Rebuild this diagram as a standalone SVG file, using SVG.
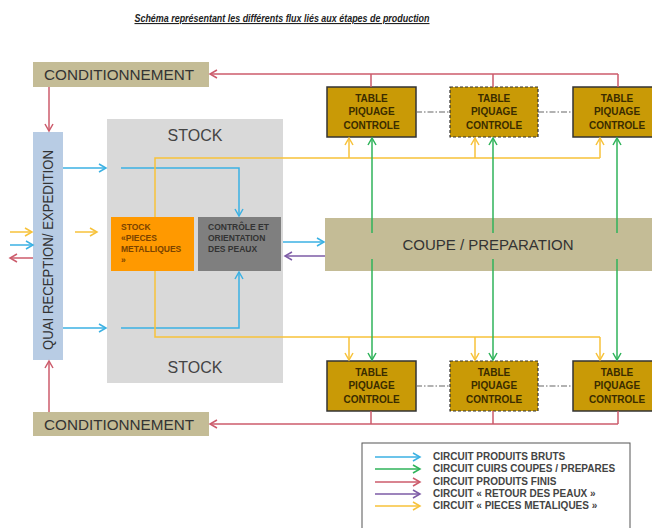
<svg xmlns="http://www.w3.org/2000/svg" width="652" height="528" viewBox="0 0 652 528">
<style>
text{font-family:"Liberation Sans","DejaVu Sans",sans-serif;}
.title{font-size:11px;font-style:italic;font-weight:bold;fill:#222;text-decoration:underline;}
.tan{fill:#c4bc96;}
.big{font-size:14.5px;fill:#333;}
.stock{font-size:16px;fill:#444;}
.tbl{fill:#c99a06;stroke:#333;stroke-width:1.5;}
.tbld{fill:#c99a06;stroke:#333;stroke-width:1.2;stroke-dasharray:3 2;}
.tt{font-size:10px;font-weight:bold;fill:#3a2c00;text-anchor:middle;}
.small{font-size:8.5px;font-weight:bold;}
.leg{font-size:10px;font-weight:bold;fill:#444;}
.b{stroke:#3bb1e3;stroke-width:1.5;fill:none;}
.g{stroke:#2fb35a;stroke-width:1.5;fill:none;}
.r{stroke:#cc5b6b;stroke-width:1.5;fill:none;}
.p{stroke:#7d5ba6;stroke-width:1.5;fill:none;}
.y{stroke:#f7c23a;stroke-width:1.5;fill:none;}
.dd{stroke:#666;stroke-width:1.2;stroke-dasharray:6 2 1.5 2;fill:none;}
</style>
<defs>
<marker id="mb" markerUnits="userSpaceOnUse" markerWidth="10" markerHeight="10" refX="8" refY="5" orient="auto"><path d="M1,1 L8,5 L1,9" fill="none" stroke="#3bb1e3" stroke-width="1.5"/></marker>
<marker id="mg" markerUnits="userSpaceOnUse" markerWidth="10" markerHeight="10" refX="8" refY="5" orient="auto"><path d="M1,1 L8,5 L1,9" fill="none" stroke="#2fb35a" stroke-width="1.5"/></marker>
<marker id="mr" markerUnits="userSpaceOnUse" markerWidth="10" markerHeight="10" refX="8" refY="5" orient="auto"><path d="M1,1 L8,5 L1,9" fill="none" stroke="#cc5b6b" stroke-width="1.5"/></marker>
<marker id="mp" markerUnits="userSpaceOnUse" markerWidth="10" markerHeight="10" refX="8" refY="5" orient="auto"><path d="M1,1 L8,5 L1,9" fill="none" stroke="#7d5ba6" stroke-width="1.5"/></marker>
<marker id="my" markerUnits="userSpaceOnUse" markerWidth="10" markerHeight="10" refX="8" refY="5" orient="auto"><path d="M1,1 L8,5 L1,9" fill="none" stroke="#f7c23a" stroke-width="1.5"/></marker>
</defs>
<rect width="652" height="528" fill="#fff"/>
<text class="title" x="282" y="22" text-anchor="middle" textLength="295" lengthAdjust="spacingAndGlyphs">Schéma représentant les différents flux liés aux étapes de production</text>

<g id="stock">
<rect x="107" y="119" width="176" height="264" fill="#d9d9d9"/>
<text class="stock" x="195" y="141" text-anchor="middle">STOCK</text>
<text class="stock" x="195" y="373" text-anchor="middle">STOCK</text>
</g>
<g id="conditionnement-top">
<rect class="tan" x="33" y="62" width="176" height="25"/>
<text class="big" x="44" y="80" textLength="150" lengthAdjust="spacingAndGlyphs">CONDITIONNEMENT</text>
</g>
<g id="conditionnement-bottom">
<rect class="tan" x="33" y="412" width="176" height="24"/>
<text class="big" x="44" y="430" textLength="150" lengthAdjust="spacingAndGlyphs">CONDITIONNEMENT</text>
</g>
<g id="quai">
<rect x="33" y="132" width="30" height="228" fill="#b8cce4"/>
<text class="big" transform="translate(53,250) rotate(-90)" text-anchor="middle" textLength="200" lengthAdjust="spacingAndGlyphs">QUAI RECEPTION/ EXPEDITION</text>
</g>
<g id="stock-pieces">
<rect x="111" y="217" width="83" height="54" fill="#ff9900"/>
<text class="small" fill="#7a4300"><tspan x="121" y="230">STOCK</tspan><tspan x="121" y="241">«PIECES</tspan><tspan x="121" y="252">METALLIQUES</tspan><tspan x="121" y="263">»</tspan></text>
</g>
<g id="controle">
<rect x="198" y="217" width="83" height="54" fill="#7f7f7f"/>
<text class="small" fill="#333"><tspan x="208" y="230">CONTRÔLE ET</tspan><tspan x="208" y="241">ORIENTATION</tspan><tspan x="208" y="252">DES PEAUX</tspan></text>
</g>
<g id="coupe">
<rect class="tan" x="325" y="218" width="330" height="53"/>
<text x="488" y="250" text-anchor="middle" font-size="15" fill="#333">COUPE / PREPARATION</text>
</g>
<g id="table-t1"><rect class="tbl" x="327" y="87" width="89" height="50"/><text class="tt"><tspan x="371.5" y="102">TABLE</tspan><tspan x="371.5" y="115">PIQUAGE</tspan><tspan x="371.5" y="129">CONTROLE</tspan></text></g>
<g id="table-t2"><rect class="tbld" x="450" y="87" width="88" height="50"/><text class="tt"><tspan x="494" y="102">TABLE</tspan><tspan x="494" y="115">PIQUAGE</tspan><tspan x="494" y="129">CONTROLE</tspan></text></g>
<g id="table-t3"><rect class="tbl" x="573" y="87" width="89" height="50"/><text class="tt"><tspan x="617" y="102">TABLE</tspan><tspan x="617" y="115">PIQUAGE</tspan><tspan x="617" y="129">CONTROLE</tspan></text></g>
<g id="table-b1"><rect class="tbl" x="327" y="361" width="89" height="50"/><text class="tt"><tspan x="371.5" y="376">TABLE</tspan><tspan x="371.5" y="389">PIQUAGE</tspan><tspan x="371.5" y="403">CONTROLE</tspan></text></g>
<g id="table-b2"><rect class="tbld" x="450" y="361" width="88" height="50"/><text class="tt"><tspan x="494" y="376">TABLE</tspan><tspan x="494" y="389">PIQUAGE</tspan><tspan x="494" y="403">CONTROLE</tspan></text></g>
<g id="table-b3"><rect class="tbl" x="573" y="361" width="89" height="50"/><text class="tt"><tspan x="617" y="376">TABLE</tspan><tspan x="617" y="389">PIQUAGE</tspan><tspan x="617" y="403">CONTROLE</tspan></text></g>

<g id="connectors">
<path class="dd" d="M416,112 H450 M538,112 H573 M416,386 H450 M538,386 H573"/>
<path class="r" d="M371,87 V74 M493,87 V74 M618,87 V74"/>
<path class="r" d="M618,74 H210" marker-end="url(#mr)"/>
<path class="r" d="M49,87 V131" marker-end="url(#mr)"/>
<path class="r" d="M371,411 V424 M493,411 V424 M618,411 V424"/>
<path class="r" d="M618,424 H210" marker-end="url(#mr)"/>
<path class="r" d="M49,412 V361" marker-end="url(#mr)"/>
<path class="r" d="M33,258 H10" marker-end="url(#mr)"/>
<path class="b" d="M10,245 H33" marker-end="url(#mb)"/>
<path class="b" d="M63,168 H106" marker-end="url(#mb)"/>
<path class="b" d="M121,168 H239 V216" marker-end="url(#mb)"/>
<path class="b" d="M63,328 H106" marker-end="url(#mb)"/>
<path class="b" d="M121,328 H239 V272" marker-end="url(#mb)"/>
<path class="b" d="M283,242 H324" marker-end="url(#mb)"/>
<path class="p" d="M325,256 H285" marker-end="url(#mp)"/>
<path class="y" d="M10,232 H32" marker-end="url(#my)"/>
<path class="y" d="M75,232 H97" marker-end="url(#my)"/>
<path class="y" d="M155,217 V158 H600"/>
<path class="y" d="M349,158 V138" marker-end="url(#my)"/>
<path class="y" d="M475,158 V138" marker-end="url(#my)"/>
<path class="y" d="M600,158 V138" marker-end="url(#my)"/>
<path class="y" d="M155,271 V337 H600"/>
<path class="y" d="M349,337 V360" marker-end="url(#my)"/>
<path class="y" d="M475,337 V360" marker-end="url(#my)"/>
<path class="y" d="M600,337 V360" marker-end="url(#my)"/>
<path class="g" d="M372,233 V138" marker-end="url(#mg)"/>
<path class="g" d="M493,233 V138" marker-end="url(#mg)"/>
<path class="g" d="M617,233 V138" marker-end="url(#mg)"/>
<path class="g" d="M372,259 V360" marker-end="url(#mg)"/>
<path class="g" d="M493,259 V360" marker-end="url(#mg)"/>
<path class="g" d="M617,259 V360" marker-end="url(#mg)"/>
</g>

<g id="legend">
<rect x="362" y="443" width="268" height="95" fill="#fff" stroke="#555" stroke-width="1"/>
<path class="b" d="M375,457 H420" marker-end="url(#mb)"/>
<path class="g" d="M375,469 H420" marker-end="url(#mg)"/>
<path class="r" d="M375,482 H420" marker-end="url(#mr)"/>
<path class="p" d="M375,494 H420" marker-end="url(#mp)"/>
<path class="y" d="M375,506 H420" marker-end="url(#my)"/>
<text class="leg" x="433" y="460">CIRCUIT PRODUITS BRUTS</text>
<text class="leg" x="433" y="472">CIRCUIT CUIRS COUPES / PREPARES</text>
<text class="leg" x="433" y="485">CIRCUIT PRODUITS FINIS</text>
<text class="leg" x="433" y="497">CIRCUIT « RETOUR DES PEAUX »</text>
<text class="leg" x="433" y="509">CIRCUIT « PIECES METALIQUES »</text>
</g>
</svg>
